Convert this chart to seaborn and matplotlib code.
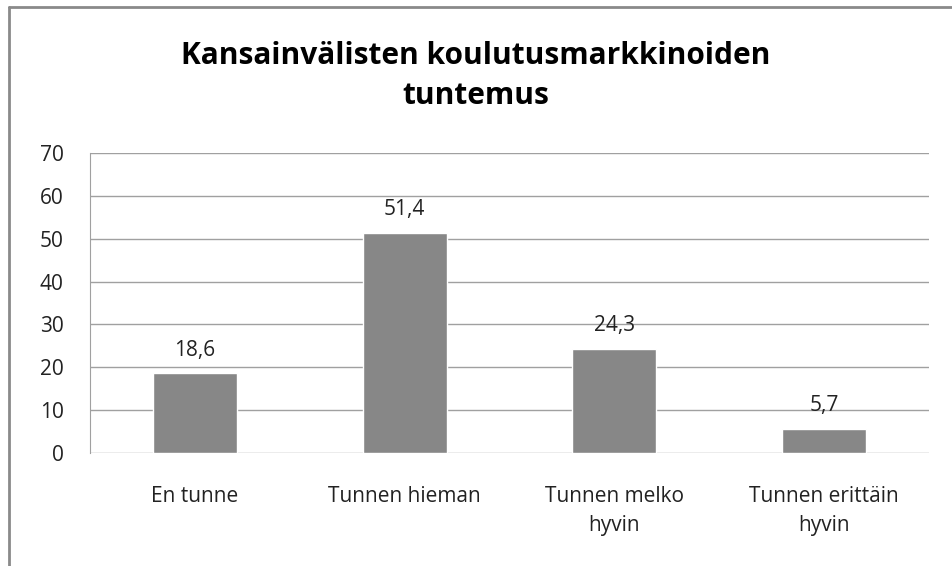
import matplotlib
matplotlib.use("Agg")
import matplotlib.pyplot as plt
import seaborn as sns
from matplotlib.lines import Line2D

# Data
categories = ["En tunne", "Tunnen hieman", "Tunnen melko\nhyvin", "Tunnen erittäin\nhyvin"]
values = [18.6, 51.4, 24.3, 5.7]
value_labels = ["18,6", "51,4", "24,3", "5,7"]
title = "Kansainvälisten koulutusmarkkinoiden\ntuntemus"

sns.set_style("white")
plt.rcParams["font.family"] = ["Open Sans", "DejaVu Sans"]

fig = plt.figure(figsize=(9.52, 5.66), dpi=100)
ax = fig.add_axes([90 / 952, 113 / 566, 839 / 952, 300 / 566])

sns.barplot(x=categories, y=values, color="#878787", saturation=1, width=0.40, ax=ax)

ax.set_ylim(0, 70)
ax.set_yticks(range(0, 71, 10))
ax.yaxis.grid(True, color="#a0a0a0", linewidth=1)
ax.set_axisbelow(True)
for s in ["top", "right", "bottom"]:
    ax.spines[s].set_visible(False)
ax.spines["left"].set_color("#a0a0a0")
ax.tick_params(axis="both", length=0, labelsize=15, colors="#222222")
ax.tick_params(axis="x", pad=24)
ax.tick_params(axis="y", pad=19)
for t in ax.get_xticklabels():
    t.set_linespacing(1.45)
ax.set_xlabel("")
ax.set_ylabel("")

for i, (v, lab) in enumerate(zip(values, value_labels)):
    ax.annotate(lab, (i, v), xytext=(0, 9), textcoords="offset points",
                ha="center", va="bottom", fontsize=15, color="#222222")

fig.text(0.5, 1 - 76 / 566, title, ha="center", va="center", fontsize=21.5,
         fontweight="bold", linespacing=1.4, color="black")

# chart border (only left and top edges visible)
fig.add_artist(Line2D([9 / 952, 9 / 952], [0, 1 - 7 / 566], transform=fig.transFigure,
                      color="#8a8a8a", linewidth=2))
fig.add_artist(Line2D([9 / 952, 1], [1 - 7 / 566, 1 - 7 / 566], transform=fig.transFigure,
                      color="#8a8a8a", linewidth=2))

plt.savefig("out.png", dpi=100)
